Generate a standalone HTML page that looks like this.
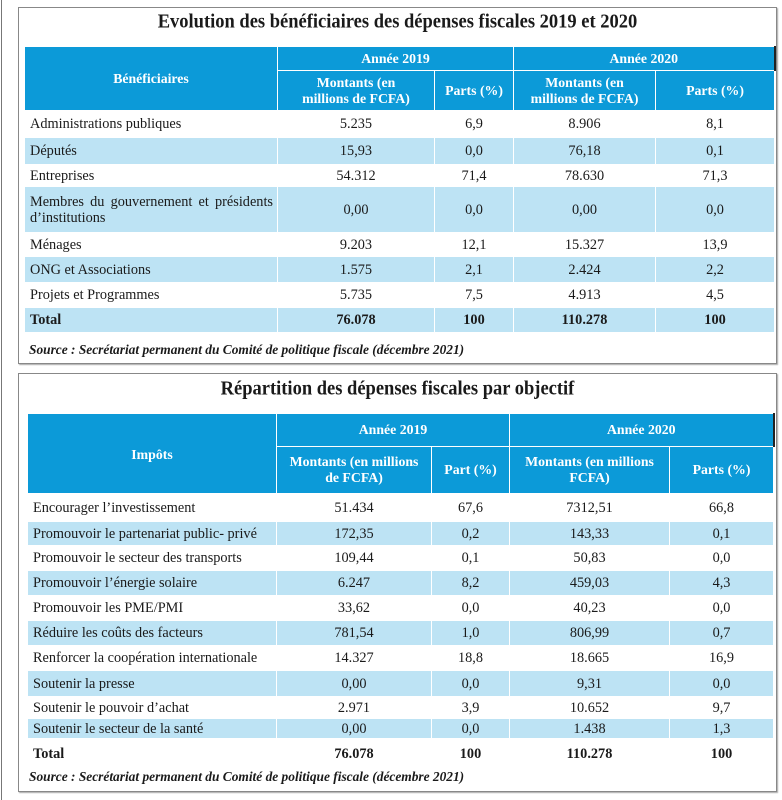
<!DOCTYPE html><html><head><meta charset="utf-8"><style>
body{margin:0;width:782px;height:800px;background:#fff;position:relative;overflow:hidden;font-family:"Liberation Serif",serif;color:#1a1a1a}
.vl{position:absolute;left:1px;top:0;width:1px;height:800px;background:#777}
.box{position:absolute;left:18px;width:757px;border:1px solid #888;box-shadow:1px 1px 1px #aaa}
.t{position:absolute;left:0;width:100%;text-align:center;font-weight:bold;font-size:18.5px;transform:scaleY(1.1)}
table{position:absolute;border-collapse:collapse;table-layout:fixed;font-size:14.3px}
td{border:1px solid #fff;padding:0;text-align:center;line-height:16px}
.h{background:#0c9ad8;color:#fff;font-weight:bold;font-size:13.8px}
.b td{background:#bde3f4}
td.l{text-align:left;padding-left:5px}
.tot td{font-weight:bold}
.src{position:absolute;font-style:italic;font-weight:bold;font-size:13.4px}
</style></head><body>
<div class="vl"></div>
<div class="box" style="top:7px;height:355px">
<div class="t" style="top:4px">Evolution des bénéficiaires des dépenses fiscales 2019 et 2020</div>
<table style="left:5px;top:38px;width:750px">
<colgroup><col style="width:253px"><col style="width:157px"><col style="width:79px"><col style="width:142px"><col style="width:119px"></colgroup>
<tr class="h" style="height:24px"><td class="h" rowspan="2">Bénéficiaires</td><td class="h" colspan="2">Année 2019</td><td class="h" colspan="2" style="border-right:2px solid #222">Année 2020</td></tr>
<tr style="height:40px"><td class="h">Montants (en<br>millions de FCFA)</td><td class="h">Parts (%)</td><td class="h">Montants (en<br>millions de FCFA)</td><td class="h">Parts (%)</td></tr>
<tr style="height:27px"><td class="l">Administrations publiques</td><td>5.235</td><td>6,9</td><td>8.906</td><td>8,1</td></tr>
<tr class="b" style="height:27px"><td class="l">Députés</td><td>15,93</td><td>0,0</td><td>76,18</td><td>0,1</td></tr>
<tr style="height:22px"><td class="l">Entreprises</td><td>54.312</td><td>71,4</td><td>78.630</td><td>71,3</td></tr>
<tr class="b" style="height:46px"><td class="l" style="text-align:justify;text-align-last:left;padding-right:4px">Membres du gouvernement et présidents d’institutions</td><td>0,00</td><td>0,0</td><td>0,00</td><td>0,0</td></tr>
<tr style="height:24px"><td class="l">Ménages</td><td>9.203</td><td>12,1</td><td>15.327</td><td>13,9</td></tr>
<tr class="b" style="height:26px"><td class="l">ONG et Associations</td><td>1.575</td><td>2,1</td><td>2.424</td><td>2,2</td></tr>
<tr style="height:25px"><td class="l">Projets et Programmes</td><td>5.735</td><td>7,5</td><td>4.913</td><td>4,5</td></tr>
<tr class="b tot" style="height:25px"><td class="l">Total</td><td>76.078</td><td>100</td><td>110.278</td><td>100</td></tr>
</table>
<div class="src" style="left:10px;top:334px">Source : Secrétariat permanent du Comité de politique fiscale (décembre 2021)</div>
</div>
<div class="box" style="top:373px;height:417px">
<div class="t" style="top:5px">Répartition des dépenses fiscales par objectif</div>
<table style="left:8px;top:39px;width:746px">
<colgroup><col style="width:249px"><col style="width:155px"><col style="width:78px"><col style="width:160px"><col style="width:104px"></colgroup>
<tr style="height:33px"><td class="h" rowspan="2" style="vertical-align:top;padding-top:33px">Impôts</td><td class="h" colspan="2">Année 2019</td><td class="h" colspan="2" style="border-right:2px solid #222">Année 2020</td></tr>
<tr style="height:47px"><td class="h">Montants (en millions<br>de FCFA)</td><td class="h">Part (%)</td><td class="h">Montants (en millions<br>FCFA)</td><td class="h">Parts (%)</td></tr>
<tr style="height:28px"><td class="l">Encourager l’investissement</td><td>51.434</td><td>67,6</td><td>7312,51</td><td>66,8</td></tr>
<tr class="b" style="height:24px"><td class="l">Promouvoir le partenariat public- privé</td><td>172,35</td><td>0,2</td><td>143,33</td><td>0,1</td></tr>
<tr style="height:25px"><td class="l">Promouvoir le secteur des transports</td><td>109,44</td><td>0,1</td><td>50,83</td><td>0,0</td></tr>
<tr class="b" style="height:25px"><td class="l">Promouvoir l’énergie solaire</td><td>6.247</td><td>8,2</td><td>459,03</td><td>4,3</td></tr>
<tr style="height:25px"><td class="l">Promouvoir les PME/PMI</td><td>33,62</td><td>0,0</td><td>40,23</td><td>0,0</td></tr>
<tr class="b" style="height:25px"><td class="l">Réduire les coûts des facteurs</td><td>781,54</td><td>1,0</td><td>806,99</td><td>0,7</td></tr>
<tr style="height:25px"><td class="l">Renforcer la coopération internationale</td><td>14.327</td><td>18,8</td><td>18.665</td><td>16,9</td></tr>
<tr class="b" style="height:26px"><td class="l">Soutenir la presse</td><td>0,00</td><td>0,0</td><td>9,31</td><td>0,0</td></tr>
<tr style="height:22px"><td class="l">Soutenir le pouvoir d’achat</td><td>2.971</td><td>3,9</td><td>10.652</td><td>9,7</td></tr>
<tr class="b" style="height:20px"><td class="l">Soutenir le secteur de la santé</td><td>0,00</td><td>0,0</td><td>1.438</td><td>1,3</td></tr>
<tr class="tot" style="height:30px"><td class="l">Total</td><td>76.078</td><td>100</td><td>110.278</td><td>100</td></tr>
</table>
<div class="src" style="left:10px;top:395px">Source : Secrétariat permanent du Comité de politique fiscale (décembre 2021)</div>
</div>
</body></html>
